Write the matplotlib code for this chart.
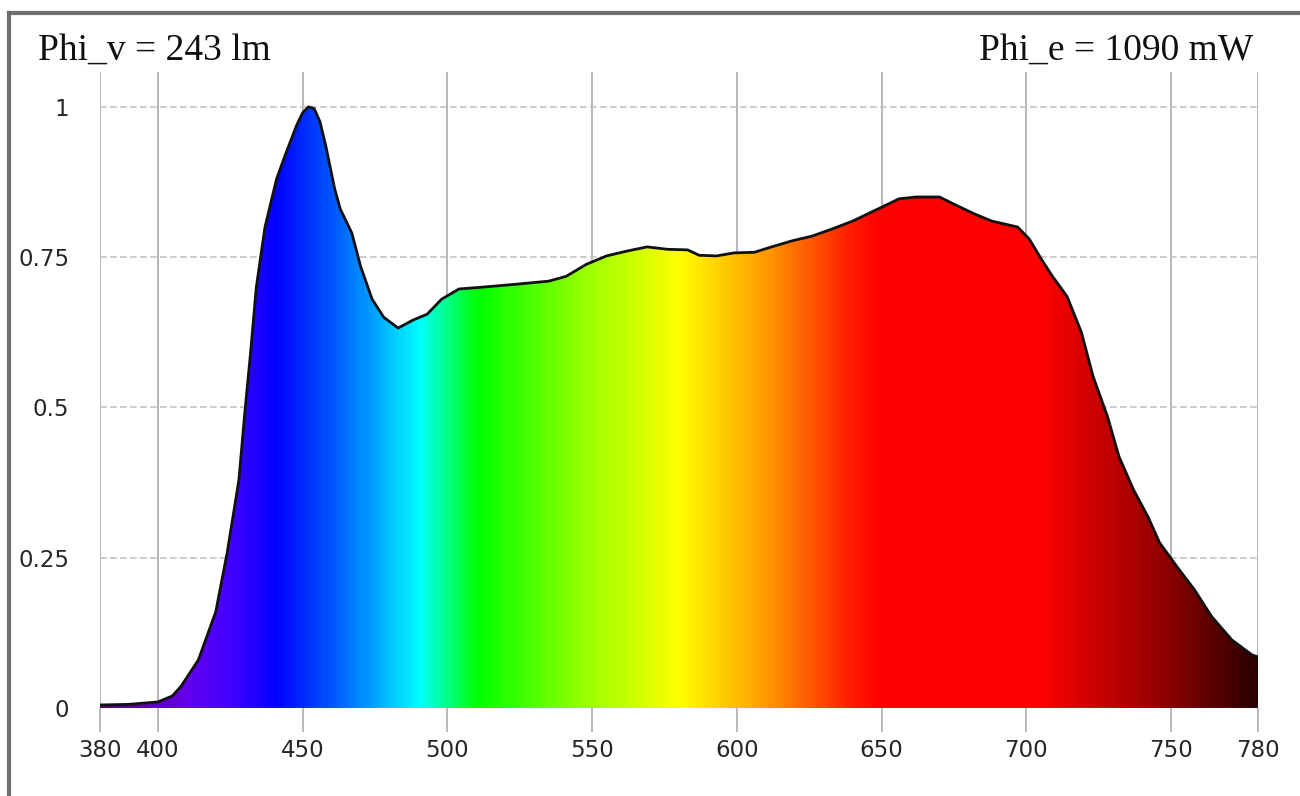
import numpy as np
import matplotlib
matplotlib.use("Agg")
import matplotlib.pyplot as plt
from matplotlib.colors import LinearSegmentedColormap
from matplotlib.lines import Line2D

# spectrum (nm, relative intensity)
wavelength = [380, 390, 400, 405, 408, 414, 420, 424, 428, 430, 432, 434, 437,
              441, 444, 446, 448, 450, 452, 454, 456, 458, 461, 463, 467, 470,
              474, 478, 483, 488, 493, 498, 504, 512, 524, 535, 541, 548, 555,
              562, 569, 576, 583, 587, 593, 599, 606, 612, 619, 626, 633, 640,
              650, 656, 662, 670, 675, 682, 688, 697, 701, 705, 709, 714, 719,
              723, 728, 732, 737, 742, 746, 752, 758, 764, 771, 778, 780]
intensity = [0.005, 0.006, 0.01, 0.02, 0.036, 0.08, 0.16, 0.26, 0.38, 0.49,
             0.59, 0.70, 0.80, 0.88, 0.92, 0.945, 0.97, 0.99, 1.0, 0.997,
             0.975, 0.935, 0.865, 0.83, 0.79, 0.735, 0.68, 0.65, 0.632, 0.645,
             0.655, 0.68, 0.697, 0.70, 0.705, 0.71, 0.718, 0.738, 0.752, 0.76,
             0.767, 0.763, 0.762, 0.753, 0.752, 0.757, 0.758, 0.767, 0.777,
             0.785, 0.797, 0.81, 0.833, 0.847, 0.85, 0.85, 0.838, 0.822, 0.81,
             0.80, 0.78, 0.748, 0.718, 0.685, 0.625, 0.552, 0.485, 0.418,
             0.363, 0.318, 0.275, 0.235, 0.197, 0.152, 0.113, 0.088, 0.085]

xticks = [380, 400, 450, 500, 550, 600, 650, 700, 750, 780]
yticks = [0, 0.25, 0.5, 0.75, 1]
ytick_labels = ["0", "0.25", "0.5", "0.75", "1"]
phi_v = "Phi_v = 243 lm"
phi_e = "Phi_e = 1090 mW"

# visible spectrum colours (wavelength stop, colour)
spec_stops = [(380, "#5a0070"), (410, "#6400f0"), (425, "#4000ff"),
              (440, "#0000ff"), (460, "#0058ff"), (475, "#00a8ff"),
              (490, "#00ffff"), (510, "#00ff00"), (545, "#90ff00"),
              (580, "#ffff00"), (610, "#ff9a00"), (640, "#ff1a00"),
              (650, "#ff0000"), (705, "#ff0000"), (750, "#8a0000"),
              (780, "#2a0000")]
lo, hi = 380, 780
spec_cmap = LinearSegmentedColormap.from_list(
    "spectrum", [((w - lo) / (hi - lo), c) for w, c in spec_stops])

fig = plt.figure(figsize=(13, 7.96), dpi=100)
ax = fig.add_axes([0.0769, 0.1106, 0.8908, 0.7990])

ymax = 1.058
ax.set_xlim(lo, hi)
ax.set_ylim(0, ymax)

# grid
for x in xticks:
    ax.axvline(x, color="#b5b5b5", lw=1.4, zorder=0)
for y in yticks[1:]:
    ax.axhline(y, color="#c4c4c4", lw=1.2, ls=(0, (4, 2)), zorder=0)

# gradient fill under the curve
poly = ax.fill_between(wavelength, 0, intensity, color="none", lw=0)
grad = np.linspace(lo, hi, 800)[None, :]
img = ax.imshow(grad, extent=[lo, hi, 0, ymax], cmap=spec_cmap,
                aspect="auto", origin="lower", zorder=1,
                interpolation="bilinear")
path = poly.get_paths()[0]
img.set_clip_path(path, transform=ax.transData)
ax.plot(wavelength, intensity, color="#111111", lw=2.0, zorder=2)

for s in ax.spines.values():
    s.set_visible(False)

ax.set_xticks(xticks)
ax.set_xticklabels([str(t) for t in xticks])
ax.set_yticks(yticks)
ax.set_yticklabels(ytick_labels)
ax.tick_params(axis="x", length=17, width=1.1, color="#a5a5a5", pad=5,
               labelsize=16.5, labelcolor="#262626")
ax.tick_params(axis="y", length=0, pad=22, labelsize=16.5,
               labelcolor="#262626")

serif = ["Liberation Serif", "DejaVu Serif"]
fig.text(38 / 1300, 1 - 50 / 796, phi_v, family=serif, fontsize=27,
         color="#101010", va="center", ha="left")
fig.text(1253 / 1300, 1 - 50 / 796, phi_e, family=serif, fontsize=27,
         color="#101010", va="center", ha="right")

# picture frame (top and left edges)
fig.add_artist(Line2D([9 / 1300, 1], [1 - 13 / 796, 1 - 13 / 796],
                      transform=fig.transFigure, color="#6f6f6f", lw=3))
fig.add_artist(Line2D([9 / 1300, 9 / 1300], [0, 1 - 13 / 796],
                      transform=fig.transFigure, color="#6f6f6f", lw=3))

fig.savefig("out.png", dpi=100)
